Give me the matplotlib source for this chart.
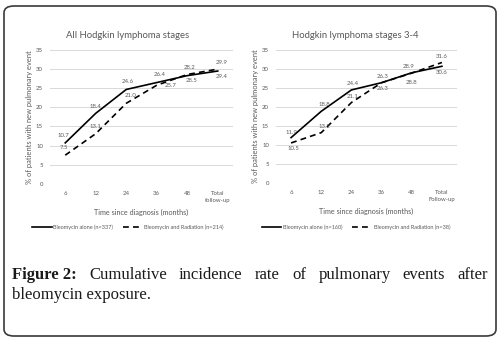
import matplotlib
matplotlib.use("Agg")
import matplotlib.pyplot as plt
from matplotlib.patches import FancyBboxPatch

# ---- data ----
categories_left = ["6", "12", "24", "36", "48", "Total\nfollow-up"]
categories_right = ["6", "12", "24", "36", "48", "Total\nFollow-up"]
left_alone = [10.7, 18.4, 24.6, 26.4, 28.2, 29.4]
left_radiation = [7.5, 13.1, 21.0, 25.7, 28.5, 29.9]
right_alone = [11.9, 18.8, 24.4, 26.3, 28.9, 30.6]
right_radiation = [10.5, 13.2, 21.1, 26.3, 28.8, 31.6]
title_left = "All Hodgkin lymphoma stages"
title_right = "Hodgkin lymphoma stages 3-4"
legend_left = ["Bleomycin alone (n=337)", "Bleomycin and Radiation (n=214)"]
legend_right = ["Bleomycin alone (n=160)", "Bleomycin and Radiation (n=38)"]
xlabel = "Time since diagnosis (months)"
ylabel = "% of patients with new pulmonary event"
yticks = [0, 5, 10, 15, 20, 25, 30, 35]

# label offsets (points) -- style only
off_left_alone = [(-1, 5.5), (0, 5), (1, 5.5), (2, 5.5), (2, 5.5), (3, -4)]
off_left_rad = [(-1, 5.5), (0, 5.5), (3, 5.5), (10, 0), (3, -4), (3, 5)]
off_right_alone = [(0, 4), (2, 5), (1, 4.5), (1, 4.5), (-2, 4.5), (0, -4.5)]
off_right_rad = [(2, -4), (2, 4.5), (1, 4), (1, -4.5), (0, -7), (0, 4.5)]

GRAY = "#595959"
FONT = ["Lato", "DejaVu Sans"]

fig = plt.figure(figsize=(5.0, 3.4), dpi=100)
W, H = 500, 340

def px_axes(x0, x1, ytop, ybot):
    return fig.add_axes([x0 / W, 1 - ybot / H, (x1 - x0) / W, (ybot - ytop) / H])

def draw_panel(ax, cats, s1, s2, o1, o2, title, leg, title_x, leg_x):
    x = list(range(len(cats)))
    l1, = ax.plot(x, s1, color="black", lw=1.2, solid_joinstyle="miter")
    l2, = ax.plot(x, s2, color="black", lw=1.2, linestyle=(0, (3.5, 2.5)))
    for xi, v, (dx, dy) in zip(x, s1, o1):
        ax.annotate(f"{v:.1f}", (xi, v), xytext=(dx, dy), textcoords="offset points",
                    ha="center", va="center", fontsize=4.3, color=GRAY, family=FONT)
    for xi, v, (dx, dy) in zip(x, s2, o2):
        ax.annotate(f"{v:.1f}", (xi, v), xytext=(dx, dy), textcoords="offset points",
                    ha="center", va="center", fontsize=4.3, color=GRAY, family=FONT)
    ax.set_xlim(-0.5, len(cats) - 0.5)
    ax.set_ylim(0, 35)
    ax.set_yticks(yticks)
    ax.set_xticks(x)
    ax.set_xticklabels(cats, fontsize=4.3, color=GRAY, family=FONT, linespacing=1.6, va="top")
    ax.set_yticklabels([str(t) for t in yticks], fontsize=4.3, color=GRAY, family=FONT)
    ax.tick_params(length=0, pad=5)
    ax.grid(axis="y", color="#d9d9d9", lw=0.7)
    ax.set_axisbelow(True)
    for s in ax.spines.values():
        s.set_visible(False)
    ax.set_xlabel(xlabel, fontsize=5.2, color=GRAY, family=FONT, labelpad=4)
    ax.set_ylabel(ylabel, fontsize=5.4, color=GRAY, family=FONT, labelpad=2)
    fig.text(title_x / W, 1 - 36 / H, title, fontsize=6.8, color=GRAY, family=FONT,
             ha="center", va="center")
    fig.legend([l1, l2], leg, loc="center", bbox_to_anchor=(leg_x / W, 1 - 227 / H),
               ncol=2, frameon=False, handlelength=3.5, handletextpad=0.3,
               columnspacing=1.8, prop={"family": FONT, "size": 4.0}, labelcolor=GRAY)

axL = px_axes(50, 233, 49.5, 184)
axR = px_axes(276, 457, 49.5, 183)
draw_panel(axL, categories_left, left_alone, left_radiation, off_left_alone, off_left_rad,
           title_left, legend_left, 128, 128)
draw_panel(axR, categories_right, right_alone, right_radiation, off_right_alone, off_right_rad,
           title_right, legend_right, 355, 356)

# border
fig.patches.append(FancyBboxPatch((4 / W, 4 / H), 492 / W, 330 / H,
                                  boxstyle="round,pad=0,rounding_size=0.02",
                                  transform=fig.transFigure, fill=False,
                                  edgecolor="#3a3a3a", lw=1.2))

# caption, line 1 justified
renderer = fig.canvas.get_renderer()
line1 = [("Figure 2:", "bold"), ("Cumulative", "normal"), ("incidence", "normal"),
         ("rate", "normal"), ("of", "normal"), ("pulmonary", "normal"),
         ("events", "normal"), ("after", "normal")]
cap_font = ["Liberation Serif", "DejaVu Serif"]
CAP_SIZE = 12
texts = [fig.text(0, 1 - 279 / H, w, fontweight=wt, fontsize=CAP_SIZE, family=cap_font,
                  color="#1a1a1a", va="baseline", ha="left") for w, wt in line1]
widths = [t.get_window_extent(renderer).width for t in texts]
x0, x1 = 12, 488
gap = (x1 - x0 - sum(widths)) / (len(texts) - 1)
xx = x0
for t, w in zip(texts, widths):
    t.set_x(xx / W)
    xx += w + gap
fig.text(x0 / W, 1 - 299 / H, "bleomycin exposure.", fontsize=CAP_SIZE, family=cap_font,
         color="#1a1a1a", va="baseline", ha="left")

fig.savefig("out.png", dpi=100)
